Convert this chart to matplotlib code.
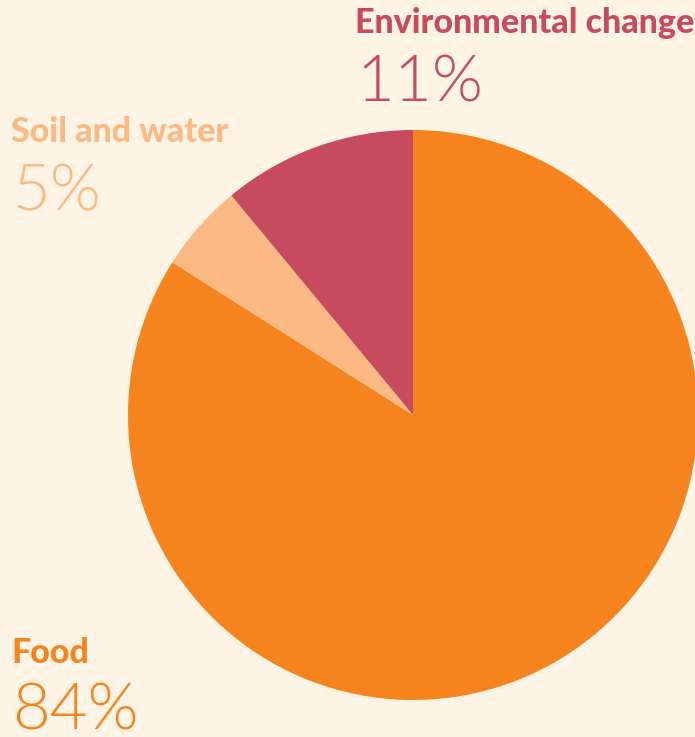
import matplotlib
matplotlib.use("Agg")
import matplotlib.pyplot as plt

# shares, listed clockwise from the top
labels = ["Food", "Soil and water", "Environmental change"]
shares = [84, 5, 11]
colors = ["#F5841F", "#FBBA83", "#C74B5F"]
bg = "#FEF4E5"

W, H = 695, 737
fig = plt.figure(figsize=(W / 100, H / 100), dpi=100, facecolor=bg)

# pie centre (413, 415) px from top-left, radius 285 px
cx, cy, r = 413, 415, 285
ax = fig.add_axes([(cx - r) / W, (H - cy - r) / H, 2 * r / W, 2 * r / H])
ax.set_facecolor(bg)
ax.pie(shares, colors=colors, startangle=90, counterclock=False, radius=1,
       wedgeprops=dict(linewidth=0))
ax.set_xlim(-1, 1)
ax.set_ylim(-1, 1)
ax.set_aspect("equal")
ax.axis("off")

# label positions (px from top-left): name baseline, value baseline
label_pos = {
    "Environmental change": (355, 33, 101),
    "Soil and water": (11, 142, 211),
    "Food": (11, 663, 730),
}

for lab, val, col in zip(labels, shares, colors):
    x, yb1, yb2 = label_pos[lab]
    fig.text(x / W, 1 - yb1 / H, lab, color=col, fontsize=24.5, family="Lato",
             fontweight="black", va="baseline", ha="left")
    fig.text((x + 1) / W, 1 - yb2 / H, f"{val}%", color=col, fontsize=47,
             family="Lato", fontweight=300, va="baseline", ha="left")

fig.savefig("out.png", dpi=100, facecolor=bg)
